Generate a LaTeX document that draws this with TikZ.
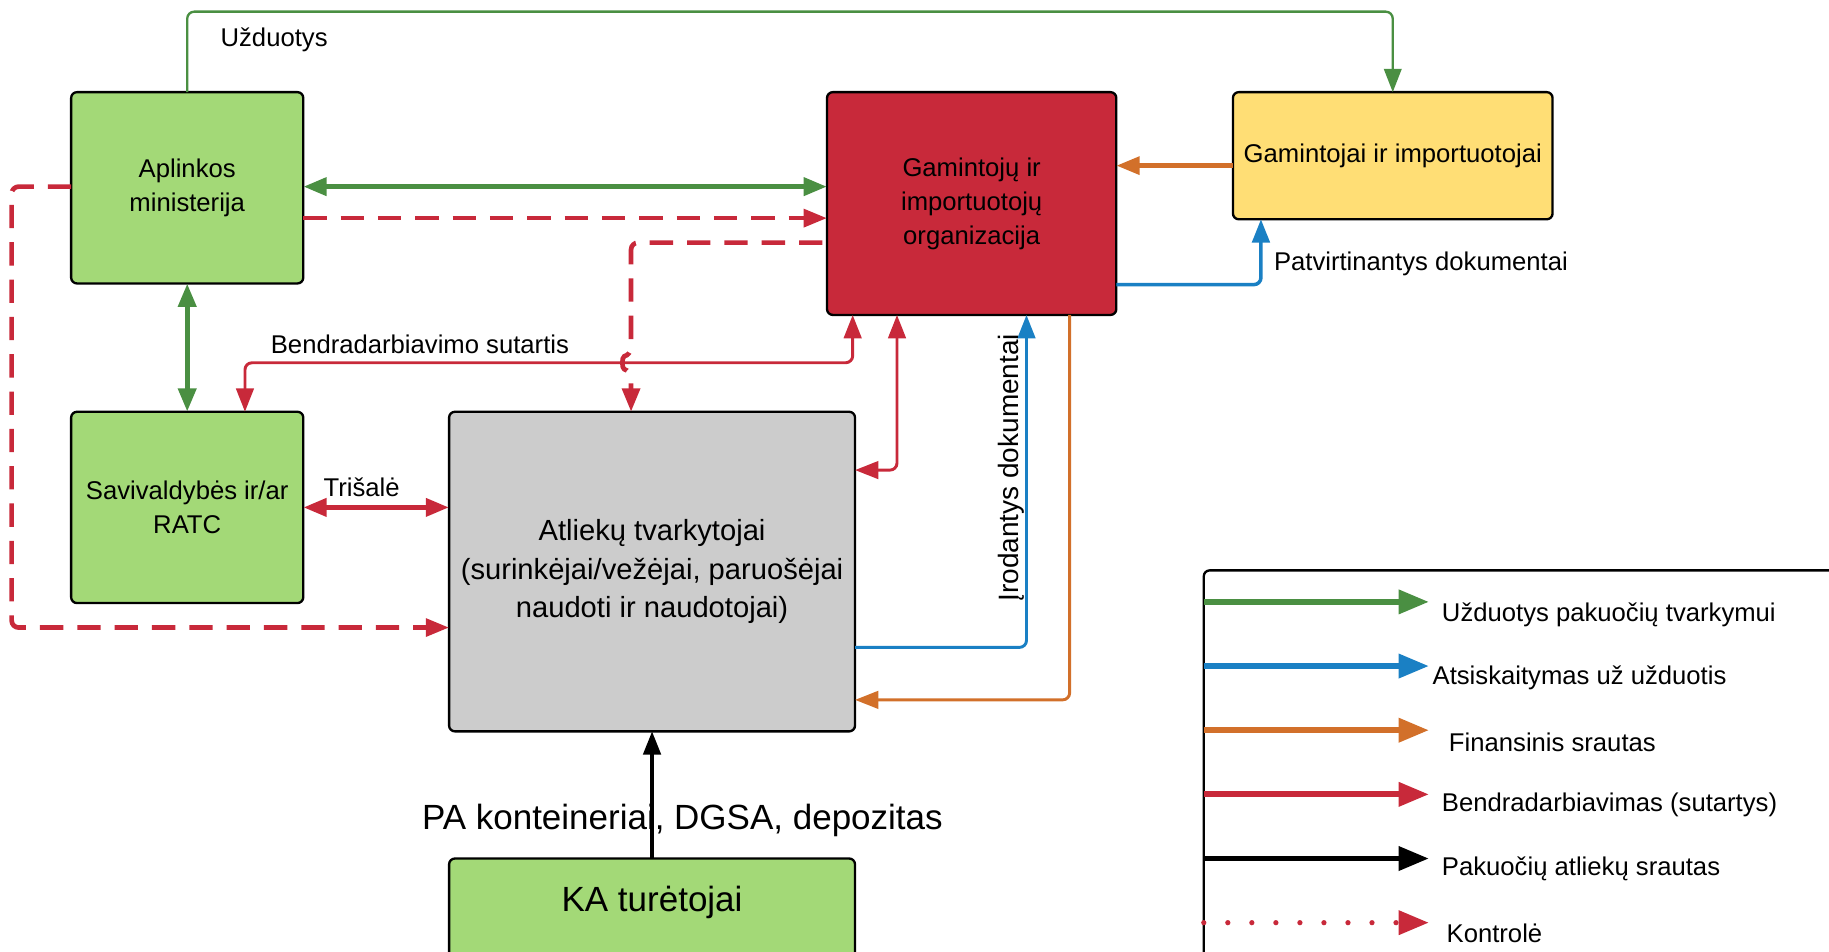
\documentclass[tikz,border=0pt]{standalone}
\usepackage{fontspec}
\setmainfont{Liberation Sans}
\usetikzlibrary{arrows.meta,calc}
\definecolor{cgreen}{HTML}{4A8F42}
\definecolor{boxgreen}{HTML}{A3D977}
\definecolor{cred}{HTML}{C8293A}
\definecolor{cblue}{HTML}{1A80C4}
\definecolor{corange}{HTML}{D2702A}
\definecolor{cyellow}{HTML}{FFDE75}
\definecolor{cgray}{HTML}{CCCCCC}
\begin{document}
\begin{tikzpicture}[x=1pt,y=-1pt,
  box/.style={draw=black, line width=2pt, rounded corners=5pt, align=center, inner sep=0pt, outer sep=0pt, font=\fontsize{22}{29}\selectfont},
  lbl/.style={font=\fontsize{22}{26}\selectfont, inner sep=0pt},
  tipend/.style={-{Triangle[length=20pt,width=15pt]}},
  dtip/.style={{Triangle[length=20pt,width=15pt]}-{Triangle[length=20pt,width=15pt]}},
  fline/.style={line width=2.5pt, rounded corners=6pt},
  bline/.style={line width=4.5pt},
  dline/.style={line width=4pt, dash pattern=on 20pt off 12pt, rounded corners=6pt},
  legtip/.style={line width=5pt, -{Triangle[length=26pt,width=20pt]}},
  leglbl/.style={font=\fontsize{22}{26}\selectfont, inner sep=0pt, anchor=west}
]
\useasboundingbox (0,0) rectangle (1568,816);

% boxes
\node[box, fill=boxgreen, minimum width=199pt, minimum height=164pt] (am) at (160.5,161) {Aplinkos\\ministerija};
\node[box, fill=boxgreen, minimum width=199pt, minimum height=164pt] (sav) at (160.5,435) {Savivaldybės ir/ar\\RATC};
\node[box, fill=cred, minimum width=248pt, minimum height=191pt] (gio) at (833,174.5) {Gamintojų ir\\importuotojų\\organizacija};
\node[box, fill=cyellow, minimum width=274pt, minimum height=109pt] (gi) at (1194,133.5) {Gamintojai ir importuotojai};
\node[box, fill=cgray, minimum width=348pt, minimum height=274pt, font=\fontsize{25}{33}\selectfont] (at) at (559,490) {Atliekų tvarkytojai\\(surinkėjai/vežėjai, paruošėjai\\naudoti ir naudotojai)};
\node[box, fill=boxgreen, minimum width=348pt, minimum height=100pt, font=\fontsize{30}{34}\selectfont] (ka) at (559,786) {\raisebox{5pt}[0pt][0pt]{KA turėtojai}};
\node[draw=black, line width=2pt, rounded corners=5pt, minimum width=560pt, minimum height=345pt, anchor=north west, inner sep=0pt, outer sep=0pt] (leg) at (1032,489) {};

% green Užduotys
\draw[cgreen, line width=2pt, rounded corners=6pt, tipend] (am.north) -- (160.5,10) -| (gi.north);
\node[lbl] (uzd) at (235,34) {Užduotys};

% green double horizontal
\draw[cgreen, bline, dtip] (am.east |- 0,160) -- (gio.west |- 0,160);
% red dashed AM -> GIO
\draw[cred, dline, tipend] (am.east |- 0,187) -- (gio.west |- 0,187);
% red dashed GIO -> AT with hop
\draw[cred, dline, dash phase=-4pt, tipend] (gio.west |- 0,208) -- (541,208) -- (541,304) .. controls (533,306) and (533,316) .. (541,318) -- (541,0 |- at.north);
% red dashed AM -> AT around left
\draw[cred, dline, tipend] (am.west |- 0,160) -- (10,160) -- (10,538) -- (at.west |- 0,538);

% green vertical double
\draw[cgreen, bline, dtip] (am.south) -- (sav.north);

% Bendradarbiavimo sutartis
\draw[cred, fline, dtip] (210,0 |- sav.north) -- (210,311) -- (731,311) -- (731,0 |- gio.south);
\node[lbl] (bend) at (360,295) {Bendradarbiavimo sutartis};

% red GIO <-> AT
\draw[cred, fline, dtip] (769,0 |- gio.south) -- (769,403) -- (at.east |- 0,403);

% Trišalė
\draw[cred, bline, dtip] (sav.east |- 0,435) -- (at.west |- 0,435);
\node[lbl] (tri) at (310,418) {Trišalė};

% blue Įrodantys
\draw[cblue, fline, tipend] (at.east |- 0,555) -- (880,555) -- (880,0 |- gio.south);
\node[font=\fontsize{24}{28}\selectfont, inner sep=0pt, rotate=90] (irod) at (867,401) {Įrodantys dokumentai};

% orange GIO -> AT
\draw[corange, fline, tipend] (917,0 |- gio.south) -- (917,600) -- (at.east |- 0,600);
% orange GI -> GIO
\draw[corange, line width=4pt, tipend] (gi.west |- 0,142) -- (gio.east |- 0,142);
% blue GIO -> GI
\draw[cblue, line width=3pt, rounded corners=6pt, tipend] (gio.east |- 0,244) -- (1081,244) -- (1081,0 |- gi.south);
\node[leglbl] (patv) at (1092,226) {Patvirtinantys dokumentai};

% black KA -> AT
\node[font=\fontsize{30}{34}\selectfont, inner sep=0pt] (pa) at (585,703) {PA konteineriai, DGSA, depozitas};
\draw[black, line width=3pt, tipend] (ka.north) -- (at.south);

% legend
\coordinate (l1) at (1225,516);
\coordinate (l2) at (1225,571);
\coordinate (l3) at (1225,626);
\coordinate (l4) at (1225,681);
\coordinate (l5) at (1225,736);
\coordinate (l6) at (1225,791);
\draw[cgreen, legtip] (leg.west |- l1) -- (l1);
\draw[cblue, legtip] (leg.west |- l2) -- (l2);
\draw[corange, legtip] (leg.west |- l3) -- (l3);
\draw[cred, legtip] (leg.west |- l4) -- (l4);
\draw[black, legtip] (leg.west |- l5) -- (l5);
\draw[cred, line width=4.5pt, line cap=round, dash pattern=on 0pt off 20.6pt] (leg.west |- l6) -- (1200,791);
\draw[cred, legtip] (1199,791) -- (l6);
\node[leglbl] (t1) at (1236,527) {Užduotys pakuočių tvarkymui};
\node[leglbl] (t2) at (1228,581) {Atsiskaitymas už užduotis};
\node[leglbl] (t3) at (1242,636) {Finansinis srautas};
\node[leglbl] (t4) at (1236,690) {Bendradarbiavimas (sutartys)};
\node[leglbl] (t5) at (1236,745) {Pakuočių atliekų srautas};
\node[leglbl] (t6) at (1240,800) {Kontrolė};
\end{tikzpicture}
\end{document}
